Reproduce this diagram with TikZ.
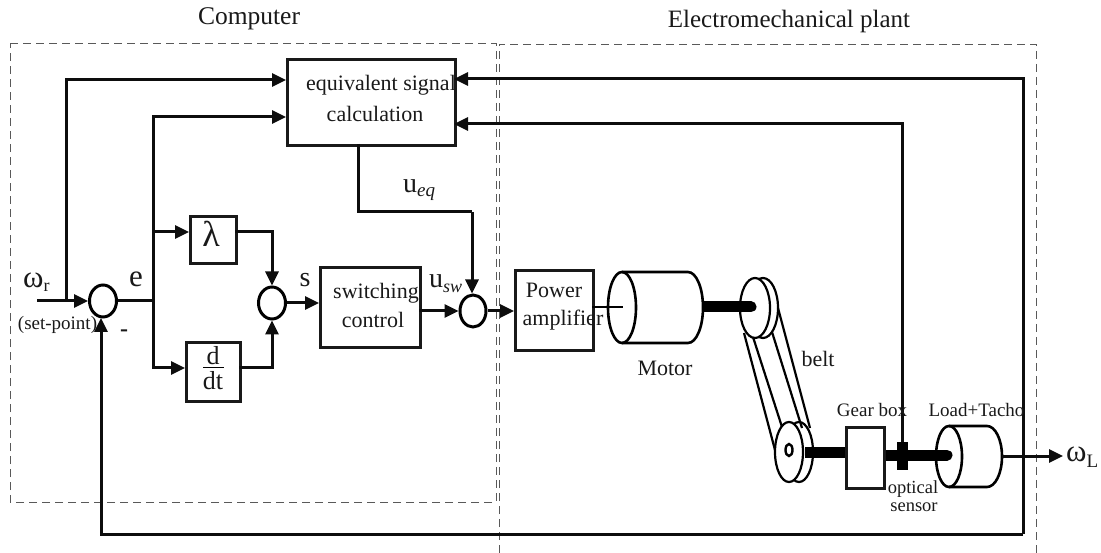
\documentclass[tikz,border=0pt]{standalone}
\usepackage{fontspec}
\setmainfont{Liberation Serif}
\usetikzlibrary{arrows.meta,calc,shapes.geometric}
\tikzset{
  wire/.style={line width=3pt,color=black!95},
  arr/.style={wire,-{Triangle[length=14pt,width=13pt]}},
  blockbox/.style={draw=black!90,line width=3pt,inner sep=0pt,anchor=north west},
  summer/.style={draw=black,line width=3pt,ellipse,inner sep=0pt},
  region/.style={draw=black!65,line width=0.9pt,dash pattern=on 8pt off 5pt},
  mech/.style={draw=black,line width=2.6pt,fill=white},
  belted/.style={draw=black,line width=2.2pt},
  shaft/.style={line width=11pt,color=black},
  txt/.style={font=\fontsize{22}{24}\selectfont,inner sep=0pt,text=black!90},
  small/.style={font=\fontsize{19}{21}\selectfont,inner sep=0pt,text=black!90},
  big/.style={font=\fontsize{31}{33}\selectfont,inner sep=0pt,text=black!90},
}
\newcommand{\bx}[6]{\node[blockbox,minimum width=#4 pt-#2 pt,minimum height=#5 pt-#3 pt] (#1) at (#2,#3) {#6};}
\begin{document}
\begin{tikzpicture}[x=1pt,y=-1pt]
\useasboundingbox (0,0) rectangle (1101,553);
% regions
\draw[region] (10,43) -- (496,43) -- (496,502) -- (10,502) -- cycle;
\coordinate (pa) at (499,44);\coordinate (pb) at (1036,44);
\draw[region] (499,553) -- (pa) -- (pb) -- (1036,553);
% blocks
\bx{eq}{286}{58}{454}{144}{}
\bx{lam}{189}{215}{235}{262}{}
\bx{ddt}{185}{341}{239}{400}{}
\bx{sw}{319}{266}{419}{346}{}
\bx{amp}{514}{269}{592}{349}{}
\node[summer,minimum width=27pt,minimum height=32pt] (s1) at (103,301) {};
\node[summer,minimum width=27pt,minimum height=32pt] (s2) at (272,303) {};
\node[summer,minimum width=26pt,minimum height=32pt] (s3) at (473,311) {};
% coordinates
\coordinate (in) at (37,301);
\coordinate (t1) at (66,301);
\coordinate (e1) at (153,301);
\coordinate (fb) at (101,534);
\coordinate (fbr) at (1023,534);
\coordinate (sens) at (902,442);
\coordinate (ueqa) at (358,144);
\coordinate (ueqb) at (358,212);
\coordinate (ueqc) at (472,212);
% left wiring
\draw[arr] (in) -- (s1.west);
\draw[arr] (t1) -- (66,80) -- (286,80);
\draw[wire] (s1.east) -- (e1);
\draw[arr] (e1) -- (153,117) -- (286,117);
\draw[arr] (153,232) -- (189,232);
\draw[arr] (e1) -- (153,368) -- (185,368);
\draw[arr] (235,232) -- (272,232) -- (s2.north);
\draw[arr] (239,368) -- (272,368) -- (s2.south);
\draw[arr] (s2.east) -- (319,303);
\draw[arr] (419,311) -- (s3.west);
\draw[wire] (ueqa) -- (ueqb) -- (ueqc);
\draw[arr] (ueqc) -- (ueqc |- s3.north);
\draw[arr] (s3.east) -- (514,311);
% feedback
\draw[arr] (fbr) -- (fb) -- (101,318);
\draw[arr] (fbr) -- (1023,79) -- (454,79);
\draw[arr] (sens) -- (902,124) -- (454,124);
% motor
\draw[line width=2.2pt] (592,307) -- (623,307);
\draw[mech,fill=none] (622,272) -- (688,272) arc[start angle=-90,end angle=90,x radius=15,y radius=35.5] -- (622,343);
\node[draw=black,line width=2.6pt,ellipse,minimum width=28pt,minimum height=71pt,inner sep=0pt] (mot) at (622,307.5) {};
% belt and pulleys
\node[belted,ellipse,fill=white,minimum width=30pt,minimum height=60pt,inner sep=0pt] (p1b) at (763,308) {};
\node[belted,ellipse,fill=white,minimum width=30pt,minimum height=60pt,inner sep=0pt] (p1) at (755,308) {};
\node[belted,ellipse,fill=white,minimum width=28pt,minimum height=60pt,inner sep=0pt] (p2b) at (799,452) {};
\draw[belted] (744,333) -- (775,450);
\draw[belted] (753,337) -- (782,427);
\draw[belted] (772,332) -- (802,428);
\draw[belted] (778,308) -- (810,428);
\node[belted,ellipse,fill=white,minimum width=28pt,minimum height=60pt,inner sep=0pt] (p2) at (789,452) {};
\draw[black,line width=2.4pt] (789,450) ellipse[x radius=3.5,y radius=6];
\coordinate (mr) at (703,307);
\draw[shaft] (mr) -- (745,307);
\draw[shaft,line cap=round] (740,307) -- (751,307);
% gear box, shafts
\bx{gear}{845}{426}{883}{487}{}
\draw[shaft] (805,452) -- (gear.west |- 0,452);
% load
\draw[mech,fill=none] (949,426) -- (987,426) arc[start angle=-90,end angle=90,x radius=15,y radius=30.5] -- (949,487);
\node[draw=black,line width=2.6pt,ellipse,minimum width=26pt,minimum height=61pt,inner sep=0pt] (load) at (949,456.5) {};
\draw[shaft] (gear.east |- 0,455) -- (940,455);
\draw[shaft,line cap=round] (935,455) -- (947,455);
\node[fill=black,minimum width=11pt,minimum height=28pt,inner sep=0pt,anchor=north] (sensor) at (902.5,442) {};
\coordinate (lr) at (1002,456);
\coordinate (oo) at (1063,456);
\draw[arr] (lr) -- (oo);
% labels
\node[txt,font=\fontsize{25.5}{27}\selectfont,anchor=base] (tc) at (249,25) {Computer};
\node[txt,font=\fontsize{25}{27}\selectfont,anchor=base] (tp) at (789,28) {Electromechanical plant};
\node[txt] (l1) at (381,85) {equivalent signal};
\node[txt] (l2) at (375,114) {calculation};
\node[txt] (l3) at (376,293) {switching};
\node[txt] (l4) at (373,320) {control};
\node[txt] (l5) at (554,290) {Power};
\node[txt] (l6) at (563,320) {amplifier};
\node[txt] (l7) at (665,368) {Motor};
\node[txt] (l8) at (818,359) {belt};
\node[small] (l9) at (872,410) {Gear box};
\node[small] (l10) at (976.5,410) {Load+Tacho};
\node[small,font=\fontsize{18.5}{20}\selectfont,anchor=base] (l11) at (913,493) {optical};
\node[small,font=\fontsize{18.5}{20}\selectfont,anchor=base] (l12) at (914,511) {sensor};
\node[small] (l13) at (57.5,325) {(set-point)};
\node[big,anchor=base west] (l14) at (23,288) {ω\raisebox{-4pt}{\fontsize{18}{20}\selectfont r}};
\node[big,anchor=base] (l15) at (136,287) {e};
\node[big,font=\bfseries\fontsize{24}{26}\selectfont,anchor=base] (l16) at (124,337) {-};
\node[big,font=\fontsize{36}{38}\selectfont] (l17) at (211,234) {λ};
\node[big,font=\fontsize{28}{30}\selectfont,anchor=base] (l18) at (305,287) {s};
\node[big,font=\fontsize{28}{30}\selectfont,anchor=base west] (l19) at (403,193) {u\raisebox{-4pt}{\fontsize{19}{20}\selectfont\itshape eq}};
\node[big,font=\fontsize{28}{30}\selectfont,anchor=base west] (l20) at (429,288) {u\raisebox{-5pt}{\fontsize{18}{20}\selectfont\itshape sw}};
\node[big,font=\fontsize{26}{28}\selectfont,anchor=base] (l21) at (213,365) {d};
\draw[black,line width=1pt] (203,368) -- (224,368);
\node[big,font=\fontsize{26}{28}\selectfont,anchor=base] (l22) at (213,390) {dt};
\node[big,anchor=base west] (l23) at (1066,461) {ω\raisebox{-6pt}{\fontsize{19}{20}\selectfont L}};
\end{tikzpicture}
\end{document}
